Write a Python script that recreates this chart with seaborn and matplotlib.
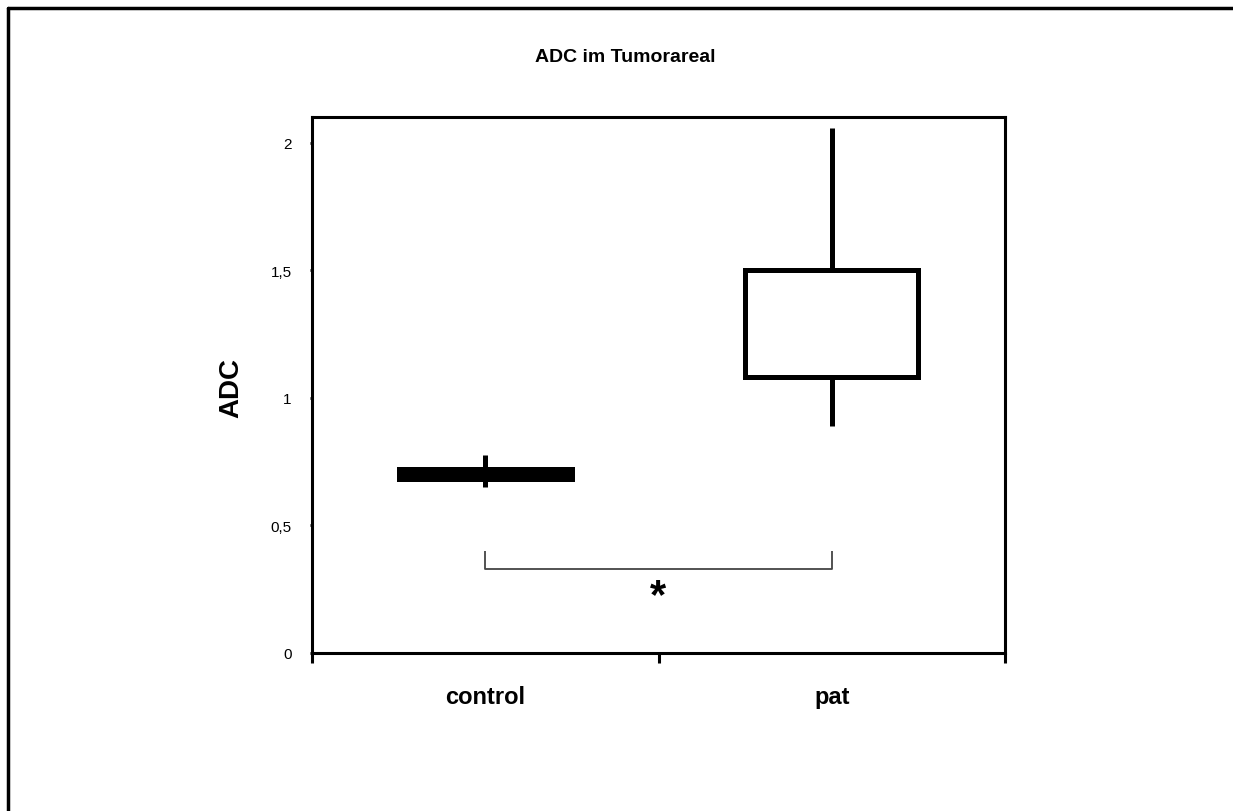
import matplotlib
matplotlib.use("Agg")
import matplotlib.pyplot as plt
from matplotlib.lines import Line2D
import seaborn as sns
import pandas as pd

# ---- data ----
groups = ["control", "pat"]
control_values = [0.65, 0.68, 0.70, 0.72, 0.775]
pat_values = [0.89, 1.08, 1.50, 1.50, 2.055]
y_ticks = [0, 0.5, 1, 1.5, 2]
y_tick_labels = ["0", "0,5", "1", "1,5", "2"]
title_text = "ADC im Tumorareal"
y_label = "ADC"
signif_text = "*"

df = pd.DataFrame({
    "group": ["control"] * len(control_values) + ["pat"] * len(pat_values),
    "ADC": control_values + pat_values,
})

sns.set_style("white")
plt.rcParams["font.family"] = ["Liberation Sans", "DejaVu Sans"]
plt.rcParams["text.color"] = "black"
plt.rcParams["axes.labelcolor"] = "black"
plt.rcParams["xtick.color"] = "black"
plt.rcParams["ytick.color"] = "black"

W, H = 1233, 812
fig = plt.figure(figsize=(W / 100, H / 100), dpi=100)
fig.patch.set_facecolor("white")

left, right, top, bottom = 312, 1005, 118, 654
ax = fig.add_axes([left / W, 1 - bottom / H, (right - left) / W, (bottom - top) / H])

lw = 3.6
sns.boxplot(
    data=df, x="group", y="ADC", order=groups, ax=ax,
    whis=(0, 100), width=0.5, showcaps=False, fliersize=0,
    color="white", linecolor="black", linewidth=lw, saturation=1,
    boxprops=dict(edgecolor="black", linewidth=lw),
    whiskerprops=dict(color="black", linewidth=lw),
    medianprops=dict(color="black", linewidth=lw),
)

ax.set_xlim(-0.5, 1.5)
ax.set_ylim(0, 2.1)

for s in ax.spines.values():
    s.set_visible(True)
    s.set_linewidth(2.2)
    s.set_color("black")

# y ticks
ax.set_yticks(y_ticks)
ax.set_yticklabels(y_tick_labels, fontsize=11, color="black")
ax.tick_params(axis="y", direction="out", length=1.5, width=2, pad=13, left=True, colors="black")

# x ticks: major ticks between categories, labels at category centres
ax.set_xticks([-0.5, 0.5, 1.5])
ax.set_xticklabels(["", "", ""])
ax.set_xticks([0, 1], minor=True)
ax.set_xticklabels(groups, minor=True, fontsize=17, fontweight="bold", color="black")
ax.tick_params(axis="x", which="major", direction="out", length=7, width=2.2, bottom=True, colors="black")
ax.tick_params(axis="x", which="minor", length=0, pad=23, colors="black")
ax.set_xlabel("")
ax.set_ylabel("")

# significance bracket
ax.plot([0, 0, 1, 1], [0.40, 0.33, 0.33, 0.40], color="#444444", lw=1.3, solid_capstyle="butt")
ax.text(0.5, 0.30, signif_text, ha="center", va="top", fontsize=30, fontweight="bold", color="black")

# titles
fig.text(625 / W, 1 - 57 / H, title_text, ha="center", va="center", fontsize=14, fontweight="bold", color="black")
fig.text(231 / W, 1 - 388 / H, y_label, ha="center", va="center", rotation=90, fontsize=20, fontweight="bold", color="black")

# outer frame (left and top lines, as in the reference)
fig.add_artist(Line2D([8 / W, 8 / W], [0, 1 - 9 / H], transform=fig.transFigure, color="black", lw=2.5))
fig.add_artist(Line2D([8 / W, 1], [1 - 9 / H, 1 - 9 / H], transform=fig.transFigure, color="black", lw=2.5))

fig.savefig("out.png", dpi=100, facecolor="white")
